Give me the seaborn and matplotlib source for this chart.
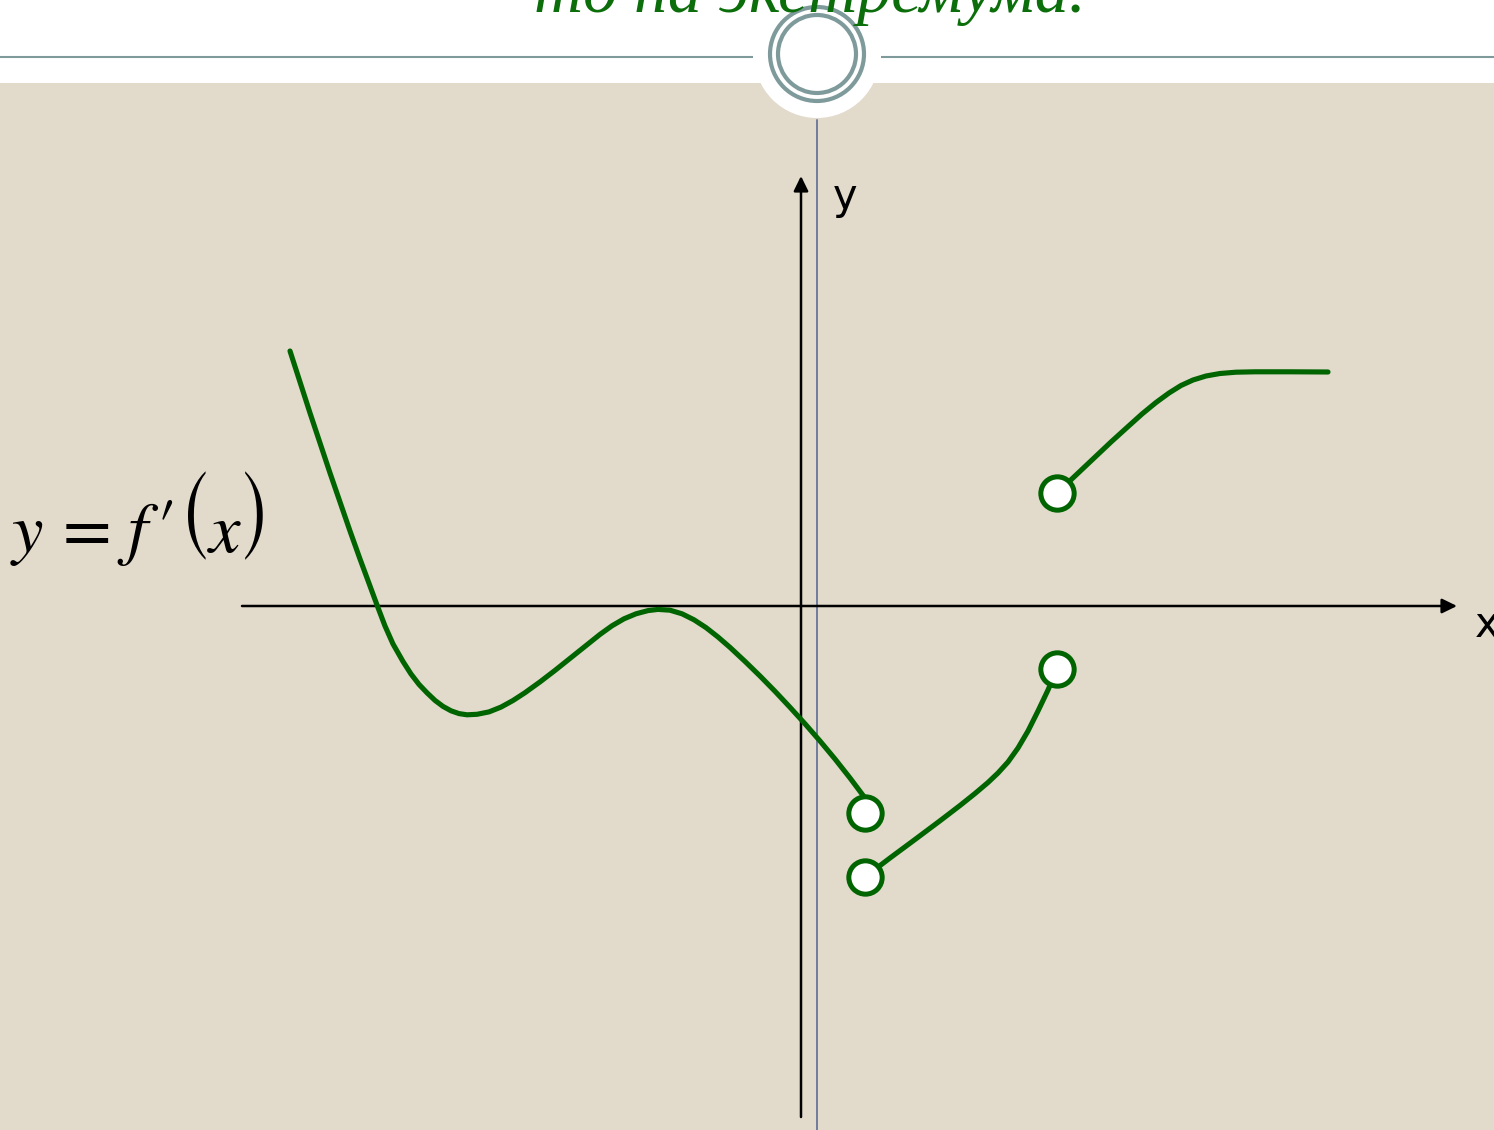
import matplotlib
matplotlib.use("Agg")
import matplotlib.pyplot as plt
import numpy as np
import pandas as pd
import seaborn as sns
from matplotlib.patches import Circle, Rectangle

# ---- graph of f'(x): three separate branches with open endpoints ----
branch1_x = [-5.11, -5.01, -4.91, -4.81, -4.71, -4.61, -4.51, -4.41, -4.31, -4.24,
             -4.16, -4.08, -3.98, -3.90, -3.82, -3.74, -3.66, -3.58, -3.50, -3.42,
             -3.34, -3.24, -3.12, -3.00, -2.88, -2.76, -2.61, -2.46, -2.31, -2.16,
             -2.01, -1.89, -1.77, -1.65, -1.53, -1.43, -1.31, -1.19, -1.07, -0.95,
             -0.83, -0.71, -0.56, -0.41, -0.26, -0.11, 0.04, 0.19, 0.34, 0.49, 0.64]
branch1_y = [2.55, 2.24, 1.93, 1.63, 1.33, 1.04, 0.75, 0.47, 0.20, 0.01,
             -0.20, -0.38, -0.555, -0.68, -0.784, -0.868, -0.944, -1.004, -1.048, -1.076,
             -1.088, -1.083, -1.059, -1.011, -0.945, -0.867, -0.759, -0.644, -0.524, -0.404,
             -0.284, -0.198, -0.128, -0.078, -0.046, -0.034, -0.042, -0.078, -0.138, -0.216,
             -0.31, -0.414, -0.554, -0.70, -0.853, -1.013, -1.178, -1.35, -1.53, -1.72, -1.92]

branch2_x = [0.64, 0.89, 1.14, 1.39, 1.59, 1.74, 1.87, 1.97, 2.07, 2.17, 2.27, 2.37, 2.47, 2.56]
branch2_y = [-2.71, -2.52, -2.335, -2.148, -1.995, -1.875, -1.765, -1.67, -1.56, -1.42,
             -1.25, -1.05, -0.84, -0.63]

branch3_x = [2.56, 2.74, 2.92, 3.10, 3.26, 3.41, 3.55, 3.68, 3.80, 3.92, 4.05, 4.19,
             4.35, 4.54, 4.89, 5.27]
branch3_y = [1.13, 1.30, 1.47, 1.64, 1.785, 1.92, 2.035, 2.13, 2.205, 2.26, 2.30, 2.325,
             2.338, 2.342, 2.342, 2.34]

# open (excluded) endpoints
hole_x = [0.64, 0.64, 2.56, 2.56]
hole_y = [-2.07, -2.71, -0.63, 1.13]

# coordinate axes extents
x_axis_from, x_axis_to = -5.59, 6.56
y_axis_from, y_axis_to = -5.11, 4.30

title_text = "то на экстремума."

GREEN = "#006400"
BEIGE = "#E2DACB"
TEAL = "#7E9A9B"
SLATE = "#6E7C9C"

sns.set_theme(style="white")
plt.rcParams["font.family"] = ["DejaVu Sans"]
plt.rcParams["text.color"] = "black"

W, H = 1494, 1130
fig = plt.figure(figsize=(W / 100, H / 100), dpi=100)
fig.patch.set_facecolor("white")

# slide decoration layer (pixel units)
deco = fig.add_axes([0, 0, 1, 1])
deco.set_xlim(0, W)
deco.set_ylim(H, 0)
deco.axis("off")
deco.add_patch(Rectangle((0, 83), W, H - 83, facecolor=BEIGE, edgecolor="none"))
deco.add_patch(Circle((817, 55), 63, facecolor="white", edgecolor="none"))
deco.plot([0, 753], [57, 57], color=TEAL, lw=1.5, solid_capstyle="butt")
deco.plot([881, W], [57, 57], color=TEAL, lw=1.5, solid_capstyle="butt")
deco.add_patch(Circle((817, 54), 47, fill=False, edgecolor=TEAL, lw=3))
deco.add_patch(Circle((817, 54), 39, fill=False, edgecolor=TEAL, lw=3))
deco.plot([817, 817], [120, H], color=SLATE, lw=1.4)

# formula label  y = f'(x), set piece by piece in a Times-like face
serif = ["STIXGeneral", "Liberation Serif"]
tall = ["STIXSizeOneSym", "STIXGeneral"]
base = 552
fs = 51
kw = dict(color="black", va="baseline")
deco.text(12, base, "y", fontsize=fs, style="italic", family=serif, **kw)
deco.text(63, base, "=", fontsize=fs, family=serif, **kw)
deco.text(127, base, "f", fontsize=fs, style="italic", family=serif, **kw)
deco.text(157, base - 4, "′", fontsize=fs, family=serif, **kw)
deco.text(195, 520, "(", fontsize=52, family=tall, color="black", ha="center", va="center")
deco.text(209, base, "x", fontsize=fs, style="italic", family=serif, **kw)
deco.text(256, 520, ")", fontsize=52, family=tall, color="black", ha="center", va="center")

# graph layer
ax = fig.add_axes([0, 0, 1, 1])
ax.patch.set_alpha(0)
ax.set_xlim(-8.01, 6.93)
ax.set_ylim(-5.24, 6.06)

arrow = dict(arrowstyle="-|>,head_length=0.45,head_width=0.22", color="black",
             lw=1.8, shrinkA=0, shrinkB=0, mutation_scale=20)
ax.annotate("", xy=(x_axis_to, 0), xytext=(x_axis_from, 0), arrowprops=arrow)
ax.annotate("", xy=(0, y_axis_to), xytext=(0, y_axis_from), arrowprops=arrow)
ax.text(0.44, 4.09, "y", fontsize=30, ha="center", va="center", color="black")
ax.text(6.86, -0.19, "x", fontsize=30, ha="center", va="center", color="black")

for bx, by in [(branch1_x, branch1_y), (branch2_x, branch2_y), (branch3_x, branch3_y)]:
    df = pd.DataFrame({"x": bx, "y": by})
    sns.lineplot(data=df, x="x", y="y", sort=False, estimator=None, ax=ax,
                 color=GREEN, lw=3.7, zorder=3, solid_joinstyle="round",
                 solid_capstyle="round")

holes = pd.DataFrame({"x": hole_x, "y": hole_y})
sns.scatterplot(data=holes, x="x", y="y", ax=ax, s=24 ** 2, color="white",
                edgecolor=GREEN, linewidth=3.6, zorder=4)
ax.axis("off")

fig.text(534 / W, 1 - 12 / H, title_text, ha="left", va="baseline", fontsize=49,
         fontstyle="italic", family=["Liberation Serif"], color="#0B6E0B")

fig.savefig("out.png", dpi=100)
